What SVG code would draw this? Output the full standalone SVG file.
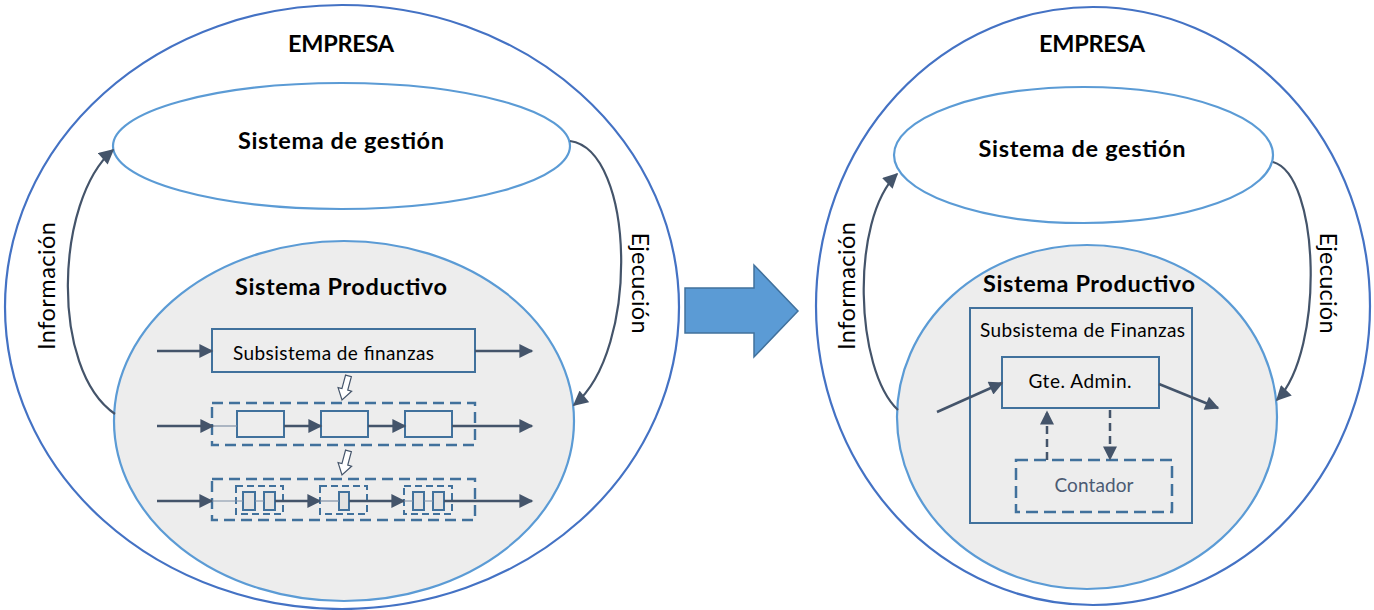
<svg xmlns="http://www.w3.org/2000/svg" width="1374" height="610" viewBox="0 0 1374 610">
  <defs>
    <style>
      .outer { fill: none; stroke: #4472c4; stroke-width: 2.2; }
      .inner { fill: #fff; stroke: #5b9bd5; stroke-width: 2.2; }
      .prod { fill: #ededed; stroke: #5b9bd5; stroke-width: 2.2; }
      .box { fill: none; stroke: #41719c; stroke-width: 2; }
      .dbox { fill: none; stroke: #41719c; stroke-width: 2.4; stroke-dasharray: 11 6; }
      .sdbox { fill: none; stroke: #41719c; stroke-width: 2; stroke-dasharray: 7 4; }
      .ldbox { fill: none; stroke: #41719c; stroke-width: 2.5; stroke-dasharray: 12 6; }
      .mini { fill: #e2e2e2; stroke: #41719c; stroke-width: 2; }
      .flow { fill: none; stroke: #44546a; stroke-width: 2.5; marker-end: url(#ah); }
      .curve { fill: none; stroke: #44546a; stroke-width: 2.2; marker-end: url(#ahl); }
      .thin { fill: none; stroke: #7f8fa6; stroke-width: 1.2; }
      .dflow { fill: none; stroke: #44546a; stroke-width: 2.5; stroke-dasharray: 8 5; marker-end: url(#ah); }
      .hollow { fill: #fff; stroke: #44546a; stroke-width: 1.2; stroke-linejoin: miter; }
      .title { font-family: Lato, "Liberation Sans", sans-serif; font-weight: bold; font-size: 23.5px; fill: #000; }
      .label { font-family: Lato, "Liberation Sans", sans-serif; font-size: 23.5px; fill: #000; }
      .small { font-family: Lato, "Liberation Sans", sans-serif; font-size: 19px; fill: #000; }
      .muted { font-family: Lato, "Liberation Sans", sans-serif; font-size: 19px; fill: #4b5b73; }
    </style>
    <marker id="ah" viewBox="0 0 10 10" refX="9" refY="5" markerWidth="15" markerHeight="14" markerUnits="userSpaceOnUse" orient="auto">
      <path d="M0,0 L10,5 L0,10 z" fill="#44546a"/>
    </marker>
    <marker id="ahl" viewBox="0 0 10 10" refX="9" refY="5" markerWidth="16" markerHeight="15" markerUnits="userSpaceOnUse" orient="auto">
      <path d="M0,0 L10,5 L0,10 z" fill="#44546a"/>
    </marker>
  </defs>

  <!-- ============ Left: company view ============ -->
  <g id="empresa-izq">
    <ellipse class="outer" cx="342" cy="307" rx="337" ry="302"/>
    <text class="title" x="341" y="52" text-anchor="middle" textLength="106">EMPRESA</text>
  </g>

  <g id="gestion-izq">
    <ellipse class="inner" cx="341.5" cy="146" rx="228.5" ry="63"/>
    <text class="title" x="341" y="149" text-anchor="middle" textLength="206">Sistema de gestión</text>
  </g>

  <g id="productivo-izq">
    <ellipse class="prod" cx="344" cy="421" rx="230" ry="180"/>
    <text class="title" x="341" y="295" text-anchor="middle" textLength="212">Sistema Productivo</text>
  </g>

  <g id="finanzas-izq">
    <rect class="box" x="212" y="329" width="263" height="43"/>
    <text class="small" x="233" y="360" textLength="201">Subsistema de finanzas</text>
  </g>

  <g id="procesos-izq">
    <rect class="dbox" x="212" y="403" width="263" height="42"/>
    <rect class="box" x="237" y="411" width="47" height="26"/>
    <rect class="box" x="321" y="411" width="47" height="26"/>
    <rect class="box" x="405" y="411" width="47" height="26"/>
  </g>

  <g id="tareas-izq">
    <rect class="dbox" x="212" y="479" width="263" height="41"/>
    <rect class="sdbox" x="236" y="486" width="47" height="28"/>
    <rect class="sdbox" x="320" y="486" width="47" height="28"/>
    <rect class="sdbox" x="404" y="486" width="48" height="28"/>
    <rect class="mini" x="243" y="492" width="12" height="18"/>
    <rect class="mini" x="264" y="492" width="11" height="18"/>
    <rect class="mini" x="339" y="492" width="10" height="18"/>
    <rect class="mini" x="413" y="492" width="11" height="18"/>
    <rect class="mini" x="433" y="492" width="11" height="18"/>
  </g>

  <g id="etiquetas-izq">
    <text class="label" transform="translate(55,286) rotate(-90)" text-anchor="middle" textLength="128">Información</text>
    <text class="label" transform="translate(632,283) rotate(90)" text-anchor="middle" textLength="101">Ejecución</text>
  </g>

  <!-- ============ Transition arrow ============ -->
  <g id="flecha-central">
    <polygon points="685,288 754,288 754,265 798,311 754,357 754,333 685,333" fill="#5b9bd5" stroke="#41719c" stroke-width="1.5"/>
  </g>

  <!-- ============ Right: company view ============ -->
  <g id="empresa-der">
    <ellipse class="outer" cx="1093" cy="306" rx="277" ry="299"/>
    <text class="title" x="1092" y="52" text-anchor="middle" textLength="106">EMPRESA</text>
  </g>

  <g id="gestion-der">
    <ellipse class="inner" cx="1083.5" cy="155" rx="189.5" ry="68"/>
    <text class="title" x="1082" y="157" text-anchor="middle" textLength="207">Sistema de gestión</text>
  </g>

  <g id="productivo-der">
    <ellipse class="prod" cx="1087" cy="417" rx="190" ry="172"/>
    <text class="title" x="1089" y="292" text-anchor="middle" textLength="212">Sistema Productivo</text>
  </g>

  <g id="finanzas-der">
    <rect class="box" x="970" y="308" width="222" height="215"/>
    <text class="small" x="980" y="337" textLength="205">Subsistema de Finanzas</text>
  </g>

  <g id="gte-admin">
    <rect class="box" x="1002" y="357" width="157" height="51"/>
    <text class="small" x="1080" y="388" text-anchor="middle" textLength="103">Gte. Admin.</text>
  </g>

  <g id="contador">
    <rect class="ldbox" x="1016" y="460" width="156" height="52"/>
    <text class="muted" x="1094" y="492" text-anchor="middle" textLength="79">Contador</text>
  </g>

  <g id="etiquetas-der">
    <text class="label" transform="translate(855,286) rotate(-90)" text-anchor="middle" textLength="128">Información</text>
    <text class="label" transform="translate(1320,283) rotate(90)" text-anchor="middle" textLength="101">Ejecución</text>
  </g>

  <!-- ============ Connectors ============ -->
  <g id="conectores">
    <!-- feedback loops, left -->
    <path class="curve" d="M115,414 C50,370 55,200 113,150"/>
    <path class="curve" d="M570,141 C635,150 640,350 574,405"/>
    <!-- finance subsystem, left -->
    <path class="flow" d="M157,351 H212"/>
    <path class="flow" d="M475,351 H532"/>
    <!-- process chain -->
    <path class="flow" d="M157,426 H213"/>
    <path class="thin" d="M213,426 H237"/>
    <path class="flow" d="M284,426 H321"/>
    <path class="flow" d="M368,426 H405"/>
    <path class="flow" d="M452,426 H532"/>
    <!-- task chain -->
    <path class="flow" d="M157,501 H212"/>
    <path class="thin" d="M212,501 H243 M255,501 H264"/>
    <path class="flow" d="M275,501 H320"/>
    <path class="thin" d="M320,501 H339"/>
    <path class="flow" d="M349,501 H404"/>
    <path class="thin" d="M404,501 H413 M424,501 H433"/>
    <path class="flow" d="M444,501 H532"/>
    <!-- decomposition hints -->
    <polygon class="hollow" transform="translate(342,400) rotate(15)" points="-3,-25 3,-25 3,-11 7,-11 0,0 -7,-11 -3,-11"/>
    <polygon class="hollow" transform="translate(342,475) rotate(15)" points="-3,-25 3,-25 3,-11 7,-11 0,0 -7,-11 -3,-11"/>

    <!-- feedback loops, right -->
    <path class="curve" d="M898,410 C855,370 850,220 897,174"/>
    <path class="curve" d="M1273,162 C1320,175 1325,350 1277,400"/>
    <!-- finance subsystem, right -->
    <path class="flow" d="M937,412 L1002,383"/>
    <path class="flow" d="M1159,384 L1218,408"/>
    <path class="dflow" d="M1047,460 V412"/>
    <path class="dflow" d="M1110,410 V459"/>
  </g>
</svg>
